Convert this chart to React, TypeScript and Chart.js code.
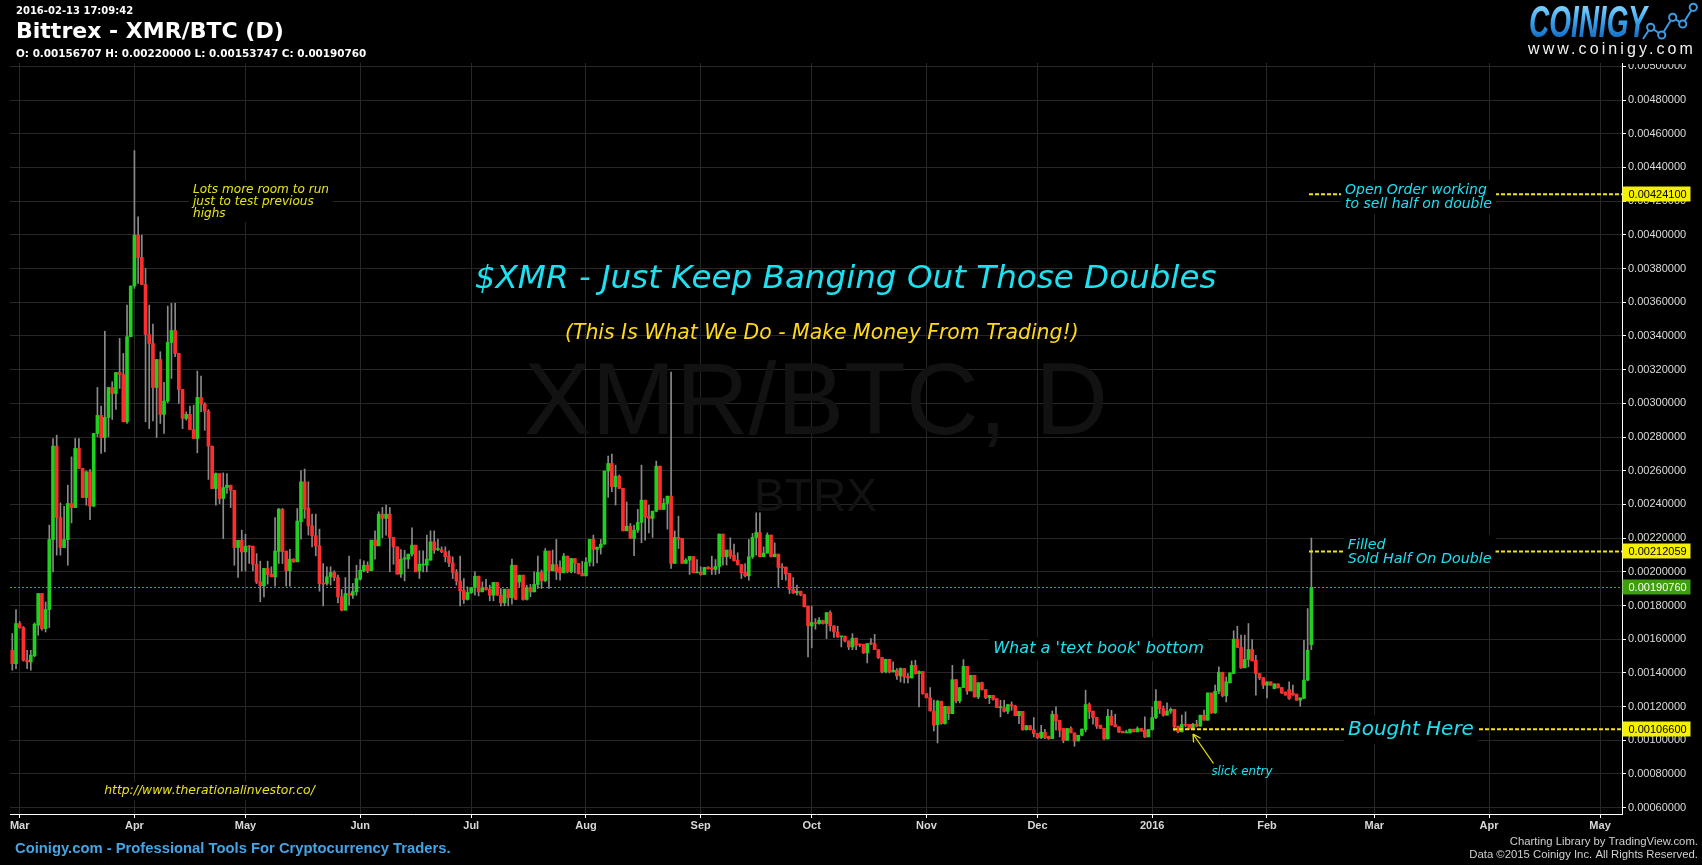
import React, { useEffect, useRef } from 'react';
import { Chart, registerables } from 'chart.js';

Chart.register(...registerables);

// Daily candles, first candle = 2015-02-27 (day index -2 relative to 2015-03-01).
// Prices in units of 0.00001 BTC.
const FIRST_DAY = -2;
const UNIT = 1e-5;

const OPEN = [
  153.4,145.5,169.3,166.9,147.5,146.5,150.1,168.3,187.1,166.3,
  177.6,219.1,274.6,232.2,214.4,219.1,240.5,238.1,273.2,261.3,
  244.1,259.3,239.0,282.1,292.8,279.7,291.6,309.4,305.8,318.3,
  317.1,289.0,339.5,369.6,399.8,386.6,370.5,340.9,335.5,309.4,
  326.0,293.4,301.3,336.1,343.2,329.6,308.2,291.0,293.4,284.4,
  279.1,303.5,299.5,295.3,274.6,249.4,258.3,243.5,250.0,251.4,
  248.4,214.4,218.7,211.8,215.2,215.2,204.5,194.1,191.7,202.0,
  198.6,197.0,212.1,237.0,212.3,200.6,207.5,205.9,229.7,253.4,
  237.8,227.3,221.4,215.4,193.1,193.1,197.0,199.6,196.6,185.1,
  177.2,187.1,186.1,188.1,195.6,200.6,203.9,200.6,218.8,215.4,
  234.2,231.7,234.2,220.4,214.8,198.6,207.5,207.5,210.5,215.8,
  200.6,204.0,204.0,206.9,217.8,213.2,213.2,211.9,209.3,205.3,
  199.6,194.6,189.1,183.6,187.7,190.7,197.4,188.1,190.5,189.7,
  186.1,193.7,186.1,181.6,189.7,184.6,203.9,194.0,198.0,183.6,
  190.7,188.1,192.5,199.6,194.7,212.3,200.6,204.3,202.6,199.4,
  209.3,200.0,207.9,205.0,199.2,197.6,205.7,219.2,213.3,214.4,
  216.4,259.8,264.3,250.5,256.8,249.5,224.3,227.1,219.8,224.7,
  229.3,242.5,233.0,231.7,236.0,262.7,237.0,240.6,244.9,205.0,
  220.4,219.8,205.0,206.9,209.1,199.4,199.8,198.4,202.8,202.4,
  201.4,203.2,222.4,208.9,212.9,209.9,206.9,204.3,199.6,197.6,
  208.9,220.4,223.3,208.9,211.1,221.8,208.9,210.5,202.8,202.8,
  199.0,189.7,187.5,188.5,186.5,179.6,167.9,169.9,169.3,171.1,
  169.3,175.8,167.9,164.3,161.4,161.8,159.0,155.4,160.6,157.0,
  157.0,151.9,157.6,157.4,153.8,149.1,140.6,148.1,140.6,141.6,
  138.2,142.6,138.0,137.0,144.5,139.6,140.8,127.7,125.3,117.4,
  109.3,123.2,109.9,120.2,115.8,136.0,123.4,131.3,143.9,129.3,
  138.6,125.7,134.2,130.1,125.3,126.7,124.7,119.4,119.4,117.2,
  121.2,120.4,114.6,117.2,106.3,108.7,106.3,104.0,101.6,104.8,
  102.4,101.0,115.4,111.9,107.0,100.0,107.0,104.4,99.6,103.0,
  106.4,121.2,117.3,113.5,109.0,107.0,100.8,114.3,109.3,108.0,
  105.4,104.4,104.4,106.6,105.0,107.0,106.0,102.0,106.4,113.5,
  123.2,118.8,114.9,117.3,118.4,108.4,105.0,109.5,109.5,107.0,
  109.5,108.4,114.9,111.9,128.1,116.3,129.1,140.4,126.4,134.1,
  139.6,160.0,155.1,143.0,148.0,153.9,147.5,139.6,137.2,132.7,
  134.7,130.7,133.5,131.3,128.7,130.1,128.1,127.4,123.8,124.8,
  135.7,156.707,
];

const HIGH = [
  163.3,177.6,170.5,167.5,153.4,153.4,169.7,187.1,187.1,182.1,
  227.7,279.1,281.1,240.9,238.9,251.4,268.2,279.1,279.1,261.5,
  259.9,260.7,282.1,309.4,298.3,342.8,309.4,312.8,318.3,338.5,
  329.6,358.3,369.6,450.0,410.7,399.8,380.0,358.3,347.0,326.0,
  330.6,312.4,357.7,359.3,359.3,329.6,308.2,295.0,298.3,298.9,
  319.1,316.1,300.3,296.3,274.6,258.7,258.3,258.7,258.3,251.4,
  248.4,218.7,224.7,222.3,215.5,215.2,210.8,206.3,202.0,206.3,
  203.0,232.2,237.6,237.6,212.3,213.4,207.8,237.6,260.0,261.0,
  253.4,234.2,234.2,225.3,204.9,203.0,203.0,200.6,198.0,189.5,
  196.6,209.3,193.1,203.9,207.3,206.5,205.9,218.8,224.3,235.6,
  238.2,239.6,238.2,220.4,214.8,213.2,212.8,210.5,226.1,215.8,
  212.5,212.5,221.8,224.3,224.3,219.4,214.8,214.8,212.5,208.9,
  201.4,209.3,196.0,191.1,190.7,200.0,197.4,194.0,195.6,192.1,
  193.7,193.7,190.1,189.7,189.7,207.5,203.9,198.0,198.0,192.1,
  192.5,200.0,209.3,201.0,213.8,212.3,212.9,219.2,206.5,210.9,
  209.3,207.9,207.9,205.0,206.3,208.5,219.2,221.8,214.6,219.2,
  259.8,268.7,269.9,263.3,257.4,249.5,241.5,228.7,227.7,237.0,
  263.3,242.5,239.6,236.0,265.7,262.7,243.5,244.9,318.5,224.3,
  233.0,219.8,207.9,209.1,209.1,207.3,203.0,202.6,203.0,209.3,
  207.3,222.4,222.4,212.9,220.2,216.4,211.3,204.3,204.9,219.2,
  222.8,235.0,235.0,214.8,223.1,221.8,217.2,210.5,204.9,202.8,
  199.0,196.6,192.1,188.5,186.5,179.6,179.6,172.2,172.8,171.3,
  175.8,176.8,167.9,167.7,161.8,161.8,159.0,163.3,160.6,157.2,
  157.0,157.4,160.4,162.9,153.8,149.1,148.1,148.1,146.5,142.6,
  143.0,142.6,139.6,147.1,147.5,141.2,140.8,127.7,131.3,123.8,
  123.8,123.2,120.2,120.2,144.5,136.0,131.3,147.9,143.9,138.6,
  138.6,134.2,134.6,130.1,126.7,126.7,124.7,123.8,123.8,121.2,
  122.8,120.8,117.2,117.2,108.9,108.9,113.5,104.2,108.9,106.5,
  102.5,117.4,119.8,111.9,107.0,107.0,108.0,104.4,103.0,106.8,
  129.7,122.2,117.3,113.5,109.0,107.0,118.3,117.8,115.5,108.0,
  105.4,106.0,106.6,106.6,108.0,107.0,113.9,106.4,119.8,130.1,
  123.2,120.4,122.2,119.2,118.4,108.4,114.9,116.9,109.5,110.0,
  111.9,114.9,117.9,128.1,128.1,132.7,143.6,140.4,137.6,140.0,
  165.0,167.7,162.4,162.4,169.3,159.8,150.5,139.6,137.2,134.7,
  134.7,133.5,133.5,131.3,128.7,134.7,132.7,127.4,125.2,159.4,
  178.2,220.0,
];

const LOW = [
  141.6,142.5,166.5,147.0,142.5,141.6,149.5,162.3,165.3,164.3,
  166.9,200.0,209.9,209.9,214.4,203.9,229.0,238.1,261.3,244.0,
  239.5,231.0,238.6,280.1,270.2,271.2,280.1,290.4,296.3,308.8,
  289.0,288.0,339.5,368.2,371.1,370.5,289.0,285.0,289.6,279.7,
  288.0,282.1,300.3,314.7,327.6,299.9,285.0,290.0,284.4,279.1,
  270.6,295.0,284.0,254.8,249.4,239.5,240.5,219.7,246.5,238.1,
  203.9,196.6,200.5,200.5,204.9,200.5,193.0,182.2,185.1,192.7,
  197.0,191.5,204.9,204.9,191.5,191.5,205.6,205.9,219.4,231.7,
  221.8,214.8,209.5,188.5,179.8,192.1,192.1,194.6,181.6,176.8,
  177.2,180.2,184.2,186.1,195.0,200.0,199.4,200.6,207.5,215.4,
  220.2,221.8,200.0,204.5,198.6,196.6,194.6,202.0,209.3,200.0,
  196.0,200.0,200.0,206.9,210.9,212.5,211.3,205.9,203.0,196.0,
  192.1,179.8,181.2,183.2,187.1,186.1,185.7,188.1,189.1,182.8,
  182.8,186.1,179.8,179.8,179.8,180.8,183.6,191.1,183.2,183.2,
  185.2,188.1,190.1,190.1,194.1,190.1,200.6,195.4,195.0,199.4,
  199.4,199.4,199.4,198.6,197.6,197.6,203.4,203.4,205.3,210.5,
  216.4,244.1,247.5,239.6,249.5,224.3,224.3,219.8,209.5,223.3,
  217.2,218.8,223.1,220.4,235.6,237.0,237.0,225.3,202.0,205.0,
  213.8,205.0,205.0,198.4,199.4,199.4,198.0,198.4,201.6,198.4,
  198.4,199.0,204.0,204.0,207.9,206.5,203.9,196.0,197.0,195.0,
  207.9,209.9,208.9,208.9,211.1,208.9,208.9,190.7,195.4,195.0,
  187.1,187.1,186.1,185.7,179.2,149.5,154.8,165.9,168.9,169.0,
  160.4,164.9,161.0,161.0,155.4,158.4,153.8,153.8,153.8,155.6,
  151.5,145.9,156.8,153.8,148.5,140.0,140.0,140.0,140.6,136.2,
  134.6,134.0,134.0,137.0,139.2,119.8,127.3,125.0,117.4,105.6,
  98.4,109.5,109.5,112.3,115.8,122.2,122.2,131.3,127.3,129.3,
  125.7,124.7,129.7,124.7,121.8,123.8,119.4,113.9,116.8,115.8,
  117.8,114.5,109.9,105.9,106.0,106.0,102.0,101.0,101.0,101.0,
  100.6,101.0,106.0,102.0,98.5,100.0,104.4,96.5,99.6,102.6,
  105.0,112.9,109.5,107.0,107.0,100.4,100.8,109.0,108.0,104.6,
  104.4,104.4,104.4,105.0,105.0,105.4,101.6,102.0,106.0,112.9,
  115.9,114.3,114.9,115.9,105.6,104.4,105.0,108.0,106.5,106.5,
  108.0,108.4,111.9,111.9,115.9,115.9,127.7,125.8,122.8,134.1,
  139.6,155.1,142.6,143.0,143.6,147.1,126.8,136.0,130.7,125.2,
  132.7,130.5,131.1,127.7,126.8,124.2,126.8,123.8,120.2,124.8,
  135.3,153.747,
];

const CLOSE = [
  145.5,169.3,166.9,147.5,146.5,150.5,168.9,187.1,166.3,177.6,
  219.1,274.6,232.2,214.4,219.1,240.5,238.1,273.2,261.3,244.1,
  259.3,239.0,282.1,292.8,279.7,291.6,309.4,305.8,318.3,317.1,
  289.0,339.5,369.6,399.8,386.6,370.5,340.9,335.5,309.4,326.0,
  293.4,301.3,336.1,343.2,329.6,308.2,291.0,293.4,284.4,279.1,
  303.5,299.5,295.3,274.6,249.4,258.3,243.5,250.0,251.4,248.4,
  214.4,218.7,211.8,215.2,214.8,204.5,194.0,191.7,202.0,198.4,
  197.0,212.3,237.2,211.9,200.6,207.5,205.9,230.1,253.4,237.2,
  227.3,221.4,215.4,193.1,192.7,197.0,199.6,196.6,185.1,177.2,
  187.1,186.1,188.3,196.0,201.0,203.9,200.6,218.8,215.4,234.2,
  231.7,234.2,220.4,214.8,198.6,207.5,208.3,210.5,215.8,200.0,
  204.5,204.5,207.5,217.8,212.8,213.8,211.9,208.9,205.3,199.6,
  194.6,188.7,183.6,187.7,190.7,197.4,188.1,190.5,189.5,186.1,
  193.7,186.1,181.6,189.7,184.6,203.9,183.6,198.0,183.6,190.7,
  188.1,192.5,199.6,194.7,212.3,200.6,204.3,200.0,199.4,209.3,
  200.0,207.9,205.0,199.0,197.6,205.7,219.2,213.3,214.6,216.4,
  259.8,264.3,250.5,256.8,249.5,224.3,227.1,219.8,224.7,229.3,
  242.5,232.6,231.7,236.0,262.7,237.0,240.6,244.9,205.0,220.4,
  219.4,205.0,206.9,209.1,199.4,200.0,198.4,202.6,201.8,201.4,
  203.2,222.4,208.9,212.9,209.3,206.5,204.3,199.4,197.6,208.9,
  220.4,223.3,208.9,211.1,221.8,208.9,210.5,202.6,202.4,198.8,
  189.5,187.5,188.5,186.3,179.2,167.9,169.9,169.3,171.3,169.3,
  175.8,167.9,164.3,161.4,161.8,159.0,155.4,160.6,156.4,156.6,
  151.9,157.4,157.2,153.8,149.1,140.6,148.1,140.6,141.6,138.2,
  142.6,137.6,137.0,144.5,139.6,140.8,127.7,125.3,117.4,108.9,
  123.2,109.9,120.2,115.8,136.0,123.4,131.3,143.9,129.3,138.6,
  125.7,134.2,130.1,125.3,126.7,124.3,119.4,119.8,117.2,121.2,
  120.4,114.6,117.2,106.3,108.7,106.3,104.0,101.6,104.8,101.6,
  100.9,115.4,111.5,106.0,100.0,107.0,104.4,99.6,103.0,106.6,
  121.2,116.9,113.5,108.4,107.0,100.8,114.3,109.0,108.0,105.0,
  104.4,105.0,106.6,105.0,107.0,105.4,102.0,106.4,113.5,123.2,
  118.8,114.9,117.3,118.4,108.0,105.0,109.5,108.9,107.0,109.5,
  108.4,114.9,111.9,128.1,116.3,129.1,140.4,126.4,134.7,140.0,
  160.0,155.1,143.0,148.0,153.9,147.1,139.6,137.0,132.7,134.7,
  132.7,133.5,131.1,128.1,126.8,124.8,126.8,123.8,125.2,135.7,
  153.5,190.76,
];

// Month-start day indices (from 2015-03-01) and their labels
const MONTH_TICKS = [0, 31, 61, 92, 122, 153, 184, 214, 245, 275, 306, 337, 366, 397, 427];
const MONTH_LABELS = ['Mar', 'Apr', 'May', 'Jun', 'Jul', 'Aug', 'Sep', 'Oct', 'Nov', 'Dec', '2016', 'Feb', 'Mar', 'Apr', 'May'];
const Y_TICKS = [60, 80, 100, 120, 140, 160, 180, 200, 220, 240, 260, 280, 300, 320, 340, 360, 380, 400, 420, 440, 460, 480, 500];

// Horizontal levels (same units)
const OPEN_ORDER_LEVEL = 424.1;
const FILLED_LEVEL = 212.059;
const LAST_CLOSE = 190.76;
const BOUGHT_LEVEL = 106.6;

const X_MIN = -2.62;
const X_MAX = 432.93;
const Y_MIN = 56.26;
const Y_MAX = 501.96;

const CYAN = '#1fe0f0';
const YELLOW = '#f2e60c';
const DJ = '"DejaVu Sans"';
const LIB = '"Liberation Sans"';

function fitSize(ctx: CanvasRenderingContext2D, text: string, fontFn: (s: number) => string, target: number) {
  ctx.font = fontFn(20);
  const w = ctx.measureText(text).width;
  return (20 * target) / w;
}

function textBlock(ctx: CanvasRenderingContext2D, lines: string[], x: number, ys: number[], font: string, size: number, color: string, bg = true, align: CanvasTextAlign = 'left') {
  ctx.font = font;
  ctx.textBaseline = 'middle';
  ctx.textAlign = align;
  if (bg) {
    const maxW = Math.max(...lines.map((l) => ctx.measureText(l).width));
    const left = align === 'center' ? x - maxW / 2 : x;
    ctx.fillStyle = '#000';
    ctx.fillRect(left - 4, ys[0] - size * 0.72, maxW + 8, ys[ys.length - 1] - ys[0] + size * 1.44);
  }
  ctx.fillStyle = color;
  lines.forEach((l, i) => ctx.fillText(l, x, ys[i]));
}

function dashedLine(ctx: CanvasRenderingContext2D, x1: number, x2: number, y: number, color: string, width: number, dash: number[]) {
  ctx.save();
  ctx.strokeStyle = color;
  ctx.lineWidth = width;
  ctx.setLineDash(dash);
  ctx.beginPath();
  ctx.moveTo(x1, y);
  ctx.lineTo(x2, y);
  ctx.stroke();
  ctx.restore();
}

function priceTag(ctx: CanvasRenderingContext2D, x: number, y: number, text: string, bg: string, fg: string) {
  ctx.fillStyle = bg;
  ctx.fillRect(x, Math.round(y) - 7.5, 68, 15);
  ctx.fillStyle = fg;
  ctx.font = `11px ${LIB}`;
  ctx.textAlign = 'left';
  ctx.textBaseline = 'middle';
  ctx.fillText(text, x + 6, Math.round(y) + 0.5);
}

const overlayPlugin = {
  id: 'overlay',
  beforeDraw(chart: any) {
    const { ctx } = chart;
    ctx.save();
    ctx.fillStyle = '#000';
    ctx.fillRect(0, 0, chart.width, chart.height);
    ctx.restore();
  },
  beforeDatasetsDraw(chart: any) {
    const { ctx, chartArea: ca, scales } = chart;
    const y = scales.y;
    ctx.save();
    // watermark
    ctx.fillStyle = '#121212';
    ctx.textAlign = 'center';
    ctx.textBaseline = 'middle';
    let s = fitSize(ctx, 'XMR/BTC, D', (v) => `${v}px ${LIB}`, 584);
    ctx.font = `${s}px ${LIB}`;
    ctx.fillText('XMR/BTC, D', 816, 406);
    s = fitSize(ctx, 'BTRX', (v) => `${v}px ${LIB}`, 123);
    ctx.font = `${s}px ${LIB}`;
    ctx.fillText('BTRX', 815.5, 498);
    // last close dotted line
    dashedLine(ctx, ca.left, ca.right, Math.round(y.getPixelForValue(LAST_CLOSE)) + 0.5, '#4ea81c', 1, [2, 2]);
    ctx.restore();
  },
  afterDraw(chart: any) {
    const { ctx, chartArea: ca, scales } = chart;
    const y = scales.y;
    const Y = (v: number) => y.getPixelForValue(v);
    ctx.save();

    // mask above the chart on the price axis
    ctx.fillStyle = '#000';
    ctx.fillRect(ca.right + 1, 0, chart.width - ca.right, 64);

    // level lines
    const yOpen = Y(OPEN_ORDER_LEVEL);
    const yFill = Y(FILLED_LEVEL);
    const yBought = Y(BOUGHT_LEVEL);
    dashedLine(ctx, 1309, ca.right, yOpen, YELLOW, 2, [4, 2]);
    dashedLine(ctx, 1309, ca.right, yFill, YELLOW, 2, [4, 2]);
    dashedLine(ctx, 1173, ca.right, yBought, YELLOW, 2, [4, 2]);

    // Title & subtitle
    const italic = (v: number) => `italic ${v}px ${DJ}`;
    let s = fitSize(ctx, '$XMR - Just Keep Banging Out Those Doubles', italic, 742);
    textBlock(ctx, ['$XMR - Just Keep Banging Out Those Doubles'], 845.6, [280], italic(s), s, CYAN, false, 'center');
    s = fitSize(ctx, '(This Is What We Do - Make Money From Trading!)', italic, 514);
    textBlock(ctx, ['(This Is What We Do - Make Money From Trading!)'], 821.8, [333.5], italic(s), s, '#ffd91a', false, 'center');

    // small notes
    s = fitSize(ctx, 'Lots more room to run', italic, 136);
    textBlock(ctx, ['Lots more room to run', 'just to test previous', 'highs'], 193, [189.5, 201.5, 213.5], italic(s), s, '#e8e41a');

    s = fitSize(ctx, 'http://www.therationalinvestor.co/', italic, 211);
    textBlock(ctx, ['http://www.therationalinvestor.co/'], 104.2, [791], italic(s), s, '#e8e41a');

    s = fitSize(ctx, "What a 'text book' bottom", italic, 211);
    textBlock(ctx, ["What a 'text book' bottom"], 993.2, [649], italic(s), s, CYAN);

    s = fitSize(ctx, 'to sell half on double', italic, 147);
    textBlock(ctx, ['Open Order working', 'to sell half on double'], 1345, [190.5, 204], italic(s), s, CYAN);

    s = fitSize(ctx, 'Sold Half On Double', italic, 144);
    textBlock(ctx, ['Filled', 'Sold Half On Double'], 1347.7, [544.8, 558.8], italic(s), s, CYAN);

    s = fitSize(ctx, 'Bought Here', italic, 126);
    textBlock(ctx, ['Bought Here'], 1348, [yBought + 0.5], italic(s), s, CYAN);

    s = fitSize(ctx, 'slick entry', italic, 61);
    textBlock(ctx, ['slick entry'], 1211.4, [772.3], italic(s), s, CYAN, false);

    // arrow
    ctx.strokeStyle = '#e8e000';
    ctx.lineWidth = 1.3;
    ctx.setLineDash([]);
    ctx.beginPath();
    ctx.moveTo(1213.5, 763.5);
    ctx.lineTo(1193, 734);
    ctx.moveTo(1193, 734);
    ctx.lineTo(1193.6, 742.5);
    ctx.moveTo(1193, 734);
    ctx.lineTo(1200.6, 738.2);
    ctx.stroke();

    // price tags on the axis
    const tx = ca.right + 0.5;
    priceTag(ctx, tx, yOpen, '0.00424100', '#f5f000', '#000');
    priceTag(ctx, tx, yFill, '0.00212059', '#f5f000', '#000');
    priceTag(ctx, tx, Y(LAST_CLOSE), (LAST_CLOSE * UNIT).toFixed(8), '#3f9e0c', '#fff');
    priceTag(ctx, tx, yBought, '0.00106600', '#f5f000', '#000');

    // header
    ctx.fillStyle = '#fff';
    ctx.textAlign = 'left';
    ctx.textBaseline = 'middle';
    ctx.font = `bold 10px ${DJ}`;
    ctx.fillText('2016-02-13 17:09:42', 16, 11.7);
    const bold = (v: number) => `bold ${v}px ${DJ}`;
    s = fitSize(ctx, 'Bittrex - XMR/BTC (D)', bold, 268);
    ctx.font = bold(s);
    ctx.fillText('Bittrex - XMR/BTC (D)', 16, 32);
    const ohlc = `O: ${(OPEN[OPEN.length - 1] * UNIT).toFixed(8)} H: ${(HIGH[HIGH.length - 1] * UNIT).toFixed(8)} L: ${(LOW[LOW.length - 1] * UNIT).toFixed(8)} C: ${(CLOSE[CLOSE.length - 1] * UNIT).toFixed(8)}`;
    s = fitSize(ctx, ohlc, bold, 351);
    ctx.font = bold(s);
    ctx.fillText(ohlc, 16, 54.5);

    // logo
    ctx.save();
    ctx.font = `italic bold 45px ${LIB}`;
    const lw = ctx.measureText('COINIGY').width;
    ctx.translate(1529, 37);
    ctx.scale(118 / lw, 1);
    const grad = ctx.createLinearGradient(0, -32, 0, 0);
    grad.addColorStop(0, '#86d4ff');
    grad.addColorStop(0.5, '#3aa4ee');
    grad.addColorStop(1, '#1670c6');
    ctx.fillStyle = grad;
    ctx.textBaseline = 'alphabetic';
    ctx.fillText('COINIGY', 0, 0);
    ctx.restore();
    const pts = [[1643, 39], [1650.7, 27.3], [1661.7, 35], [1672.7, 17.3], [1682.7, 24], [1693.3, 7.3]];
    ctx.strokeStyle = '#3a9ae4';
    ctx.lineWidth = 2;
    ctx.beginPath();
    pts.forEach(([px, py], i) => (i ? ctx.lineTo(px, py) : ctx.moveTo(px, py)));
    ctx.stroke();
    pts.slice(1).forEach(([px, py]) => {
      ctx.beginPath();
      ctx.arc(px, py, 3.6, 0, Math.PI * 2);
      ctx.fillStyle = '#000';
      ctx.fill();
      ctx.stroke();
    });
    ctx.fillStyle = '#f2f2f2';
    ctx.font = `16px ${LIB}`;
    const ww = ctx.measureText('www.coinigy.com').width;
    (ctx as any).letterSpacing = `${(168 - ww) / 15}px`;
    ctx.textBaseline = 'middle';
    ctx.fillText('www.coinigy.com', 1528, 49.5);
    (ctx as any).letterSpacing = '0px';

    // footer
    const foot = 'Coinigy.com - Professional Tools For Cryptocurrency Traders.';
    s = fitSize(ctx, foot, (v) => `bold ${v}px ${LIB}`, 436);
    ctx.font = `bold ${s}px ${LIB}`;
    ctx.fillStyle = '#45a4e4';
    ctx.textAlign = 'left';
    ctx.fillText(foot, 15, 849);
    ctx.fillStyle = '#d0d0d0';
    ctx.textAlign = 'right';
    s = fitSize(ctx, 'Data ©2015 Coinigy Inc. All Rights Reserved.', (v) => `${v}px ${LIB}`, 229);
    ctx.font = `${s}px ${LIB}`;
    ctx.fillText('Charting Library by TradingView.com.', 1698, 842);
    ctx.fillText('Data ©2015 Coinigy Inc. All Rights Reserved.', 1698, 854.5);

    ctx.restore();
  },
};

export default function App() {
  const ref = useRef<HTMLCanvasElement>(null);
  useEffect(() => {
    document.body.style.margin = '0';
    document.body.style.background = '#000';
    document.body.style.overflow = 'hidden';
    const n = Math.min(OPEN.length, HIGH.length, LOW.length, CLOSE.length);
    const wicks = [];
    const bodies = [];
    const colors: string[] = [];
    for (let i = 0; i < n; i++) {
      const d = FIRST_DAY + i;
      wicks.push({ x: d, y: [LOW[i], HIGH[i]] });
      bodies.push({ x: d, y: [OPEN[i], CLOSE[i]] });
      colors.push(CLOSE[i] >= OPEN[i] ? '#1fd01f' : '#ff2e2e');
    }
    const chart = new Chart(ref.current as HTMLCanvasElement, {
      type: 'bar',
      data: {
        datasets: [
          { label: 'wick', data: wicks as any, backgroundColor: '#8a8a8a', borderWidth: 0, barThickness: 1, grouped: false, order: 2 } as any,
          { label: 'body', data: bodies as any, backgroundColor: colors, borderWidth: 0, barThickness: 3, grouped: false, order: 1, minBarLength: 1 } as any,
        ],
      },
      options: {
        responsive: false,
        animation: false,
        devicePixelRatio: 1,
        layout: { padding: { left: 10, top: 63, right: 0, bottom: 0 } },
        plugins: { legend: { display: false }, tooltip: { enabled: false } },
        scales: {
          x: {
            type: 'linear',
            position: 'bottom',
            min: X_MIN,
            max: X_MAX,
            offset: false,
            grid: { color: '#272727', offset: false, drawTicks: true, tickLength: 4, tickColor: '#ffffff' },
            border: { color: '#ffffff', width: 1 },
            afterBuildTicks: (s: any) => {
              s.ticks = MONTH_TICKS.map((v) => ({ value: v }));
            },
            afterFit: (s: any) => {
              s.height = 51;
            },
            ticks: {
              autoSkip: false,
              maxRotation: 0,
              padding: 1,
              color: '#d8d8d8',
              font: { family: 'Liberation Sans', size: 11, weight: 'bold' },
              callback: (v: any) => {
                const i = MONTH_TICKS.indexOf(Number(v));
                return i >= 0 ? MONTH_LABELS[i] : '';
              },
            },
          },
          y: {
            type: 'linear',
            position: 'right',
            min: Y_MIN,
            max: Y_MAX,
            grid: { color: '#272727', drawTicks: true, tickLength: 4, tickColor: '#ffffff' },
            border: { color: '#ffffff', width: 1 },
            afterBuildTicks: (s: any) => {
              s.ticks = Y_TICKS.map((v) => ({ value: v }));
            },
            afterFit: (s: any) => {
              s.width = 80;
            },
            ticks: {
              autoSkip: false,
              padding: 2,
              color: '#dcdcdc',
              font: { family: 'Liberation Sans', size: 11 },
              callback: (v: any) => (Number(v) * UNIT).toFixed(8),
            },
          },
        },
      } as any,
      plugins: [overlayPlugin],
    });
    return () => chart.destroy();
  }, []);
  return <canvas ref={ref} width={1702} height={865} style={{ display: 'block', width: 1702, height: 865 }} />;
}
